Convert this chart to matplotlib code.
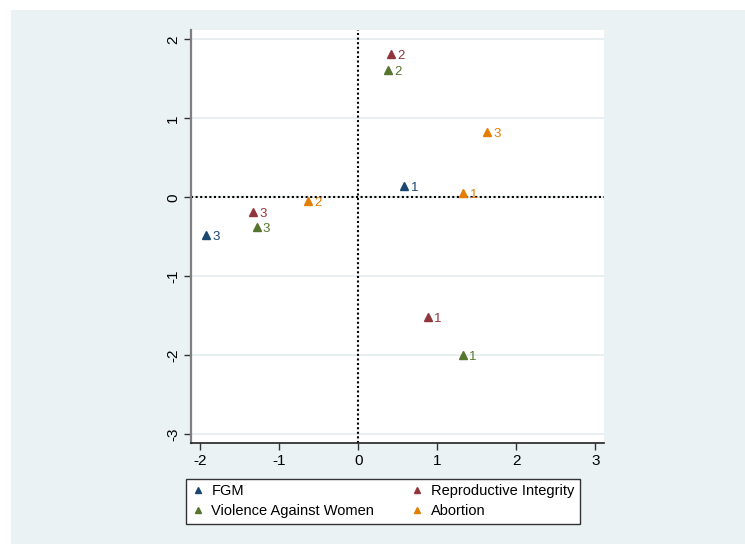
import matplotlib
matplotlib.use("Agg")
import matplotlib.pyplot as plt

plt.rcParams['font.family'] = ['Liberation Sans', 'DejaVu Sans']

series_names = ["FGM", "Reproductive Integrity", "Violence Against Women", "Abortion"]
series_colors = ["#1A476F", "#90353B", "#55752F", "#E37E00"]

fgm_x = [0.58, -1.93]
fgm_y = [0.15, -0.47]
fgm_lbl = ["1", "3"]

ri_x = [0.875, 0.41, -1.33]
ri_y = [-1.51, 1.82, -0.19]
ri_lbl = ["1", "2", "3"]

vaw_x = [1.32, 0.37, -1.29]
vaw_y = [-1.99, 1.61, -0.37]
vaw_lbl = ["1", "2", "3"]

ab_x = [1.33, -0.64, 1.63]
ab_y = [0.06, -0.04, 0.83]
ab_lbl = ["1", "2", "3"]

ticks = [-2, -1, 0, 1, 2, 3]
yticks = [-3, -2, -1, 0, 1, 2]

W, H = 745, 544
fig = plt.figure(figsize=(W / 100, H / 100), dpi=100)
fig.patch.set_facecolor("white")

bg = fig.add_axes([11 / W, 0, (W - 11) / W, (H - 10) / H], zorder=-5)
bg.set_facecolor("#EAF2F3")
bg.set_xticks([]); bg.set_yticks([])
for s in bg.spines.values():
    s.set_visible(False)

left, right, top, bottom = 191, 604, 30, 443
ax = fig.add_axes([left / W, 1 - bottom / H, (right - left) / W, (bottom - top) / H], zorder=1)
ax.set_facecolor("white")

ax.set_xlim(-2.12, 3.11)
ax.set_ylim(-3.11, 2.12)

for y in yticks:
    ax.axhline(y, color="#E3ECEE", lw=1.2, zorder=1)
ax.axhline(0, color="black", lw=1.5, ls=(0, (1, 1.2)), zorder=2)
ax.axvline(0, color="black", lw=1.5, ls=(0, (1, 1.2)), zorder=2)

data = [(fgm_x, fgm_y, fgm_lbl), (ri_x, ri_y, ri_lbl), (vaw_x, vaw_y, vaw_lbl), (ab_x, ab_y, ab_lbl)]
handles = []
for (xs, ys, lbls), name, col in zip(data, series_names, series_colors):
    h, = ax.plot(xs, ys, ls="none", marker="^", ms=5.5, color=col, mec=col, label=name, zorder=3)
    handles.append(h)
    for x, y, t in zip(xs, ys, lbls):
        ax.annotate(t, (x, y), xytext=(4.5, -1.5), textcoords="offset points",
                    ha="left", va="center", color=col, fontsize=9.5, zorder=4)

ax.set_xticks(ticks)
ax.set_yticks(yticks)
ax.set_xticklabels([str(t) for t in ticks], fontsize=11)
ax.set_yticklabels([str(t) for t in yticks], fontsize=11, rotation=90, va="center")
ax.tick_params(axis="both", direction="out", length=5, width=1, color="#333333", pad=3)

for s in ["top", "right"]:
    ax.spines[s].set_visible(False)
ax.spines["left"].set_color("#7f7f7f")
ax.spines["left"].set_linewidth(1.6)
ax.spines["bottom"].set_color("#222222")
ax.spines["bottom"].set_linewidth(1.2)

order = [0, 2, 1, 3]
leg = fig.legend([handles[i] for i in order], [series_names[i] for i in order],
                 ncol=2, loc="lower left",
                 bbox_to_anchor=(183 / W, 1 - 527 / H, 400 / W, 50 / H),
                 mode="expand", frameon=True, fancybox=False, fontsize=10.5,
                 handlelength=0.8, handletextpad=0.55, borderaxespad=0.2,
                 labelspacing=0.4, borderpad=0.4, markerscale=0.85,
                 framealpha=1.0)
leg.get_frame().set_edgecolor("#333333")
leg.get_frame().set_linewidth(1.0)
leg.set_zorder(5)

fig.savefig("out.png", dpi=100, facecolor="white")
